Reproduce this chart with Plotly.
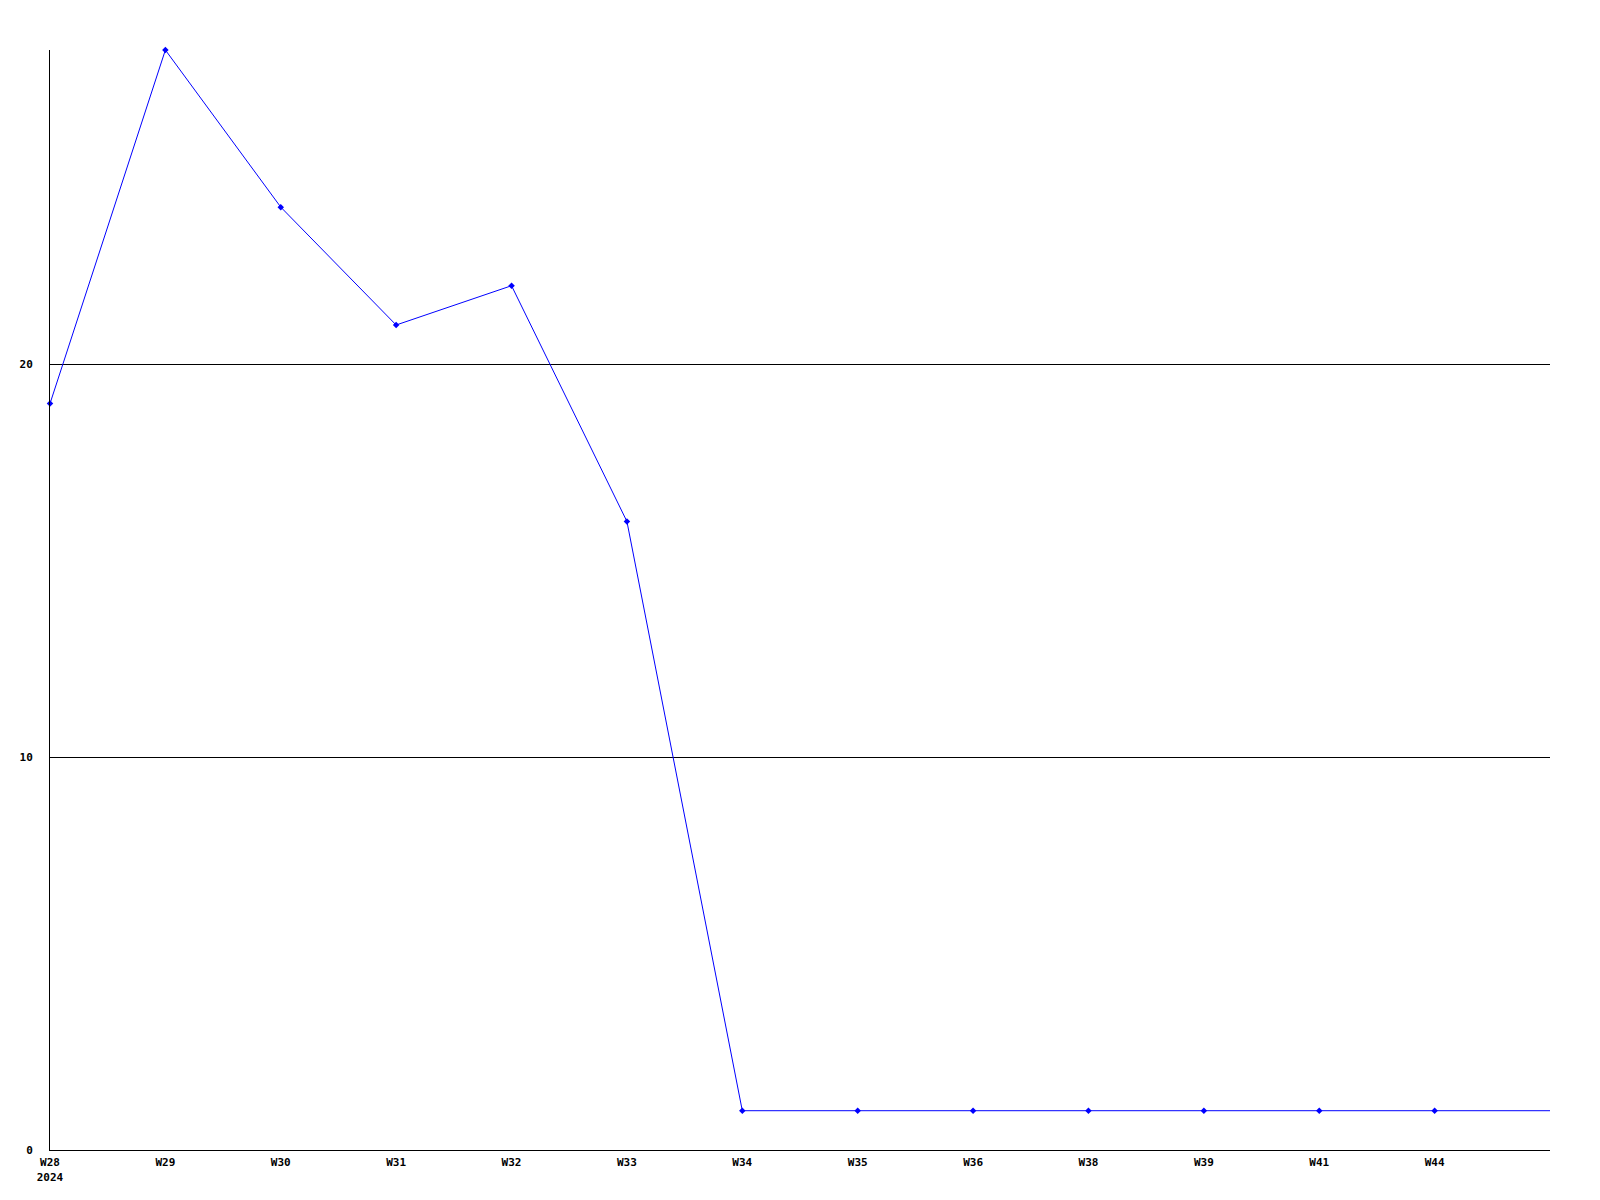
import plotly.graph_objects as go

weeks = ["W28<br>2024", "W29", "W30", "W31", "W32", "W33", "W34", "W35", "W36", "W38", "W39", "W41", "W44"]
values = [19, 28, 24, 21, 22, 16, 1, 1, 1, 1, 1, 1, 1]
# the line continues to the right edge of the plot at the same level
tail_value = 1

x_idx = list(range(len(weeks)))

fig = go.Figure()
fig.add_trace(go.Scatter(
    x=x_idx + [len(weeks)],
    y=values + [tail_value],
    mode="lines",
    line=dict(color="#0000ff", width=1),
    hoverinfo="skip",
))
fig.add_trace(go.Scatter(
    x=x_idx,
    y=values,
    mode="markers",
    marker=dict(color="#0000ff", size=5, symbol="diamond"),
    cliponaxis=False,
))

font = dict(family="DejaVu Sans Mono", size=11, color="black", weight="bold")

fig.update_layout(
    width=1600, height=1200,
    margin=dict(l=42, r=58, t=42, b=58),
    paper_bgcolor="white", plot_bgcolor="white",
    showlegend=False,
    font=font,
    xaxis=dict(
        range=[0, len(weeks)],
        tickvals=x_idx, ticktext=weeks,
        showgrid=False, zeroline=False,
        showline=True, linecolor="black", linewidth=1,
        ticks="", tickfont=font, ticklabelstandoff=2,
    ),
    yaxis=dict(
        range=[0, 28],
        tickvals=[0, 10, 20],
        showgrid=True, gridcolor="black", gridwidth=1,
        zeroline=False,
        showline=True, linecolor="black", linewidth=1,
        ticks="", tickfont=font, ticklabelstandoff=14,
    ),
)

fig.write_html("out.html")
